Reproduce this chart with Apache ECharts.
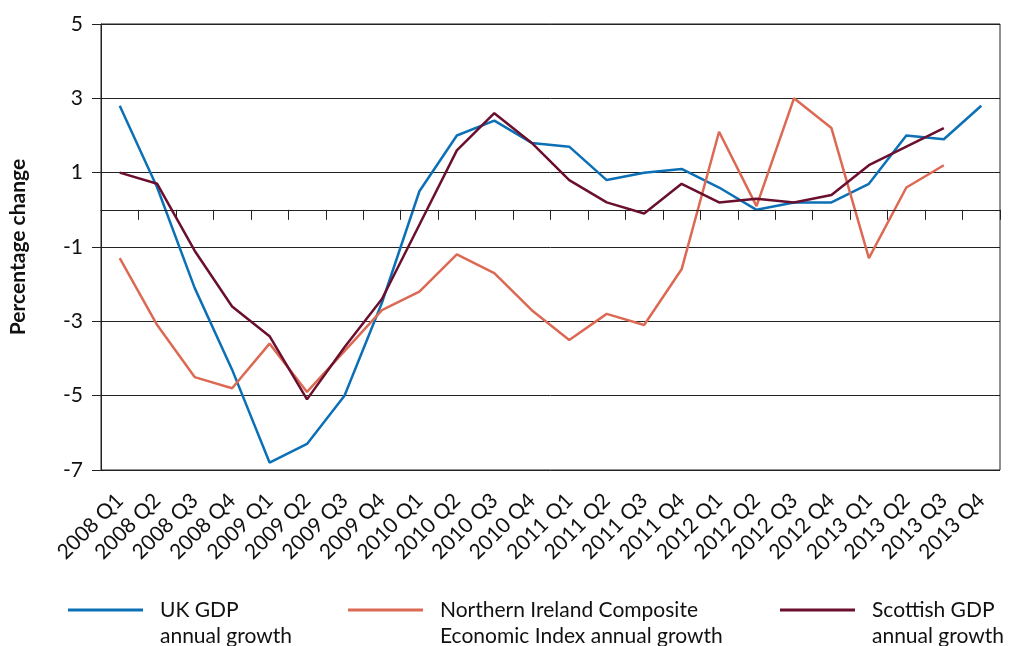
<!DOCTYPE html>
<html>
<head>
<meta charset="utf-8">
<script src="https://cdn.jsdelivr.net/npm/echarts@6/dist/echarts.min.js"></script>
<style>
html,body{margin:0;padding:0;background:#fff;}
#chart{width:1011px;height:646px;}
</style>
</head>
<body>
<div id="chart"></div>
<script>
var categories = ['2008 Q1','2008 Q2','2008 Q3','2008 Q4','2009 Q1','2009 Q2','2009 Q3','2009 Q4',
  '2010 Q1','2010 Q2','2010 Q3','2010 Q4','2011 Q1','2011 Q2','2011 Q3','2011 Q4',
  '2012 Q1','2012 Q2','2012 Q3','2012 Q4','2013 Q1','2013 Q2','2013 Q3','2013 Q4'];
var ukGDP = [2.8, 0.6, -2.1, -4.3, -6.8, -6.3, -5.0, -2.5, 0.5, 2.0, 2.4, 1.8, 1.7, 0.8, 1.0, 1.1,
  0.6, 0.0, 0.2, 0.2, 0.7, 2.0, 1.9, 2.8];
var niIndex = [-1.3, -3.1, -4.5, -4.8, -3.6, -4.9, -3.8, -2.7, -2.2, -1.2, -1.7, -2.7, -3.5, -2.8, -3.1, -1.6,
  2.1, 0.1, 3.0, 2.2, -1.3, 0.6, 1.2, null];
var scotGDP = [1.0, 0.7, -1.1, -2.6, -3.4, -5.1, -3.7, -2.4, -0.4, 1.6, 2.6, 1.8, 0.8, 0.2, -0.1, 0.7,
  0.2, 0.3, 0.2, 0.4, 1.2, 1.7, 2.2, null];
var seriesNames = ['UK GDP\nannual growth', 'Northern Ireland Composite\nEconomic Index annual growth', 'Scottish GDP\nannual growth'];
var colors = ['#0b70b5', '#dc6954', '#6b0f2e'];

var FONT = 'Lato, "Open Sans", sans-serif';
var chart = echarts.init(document.getElementById('chart'), null, {renderer: 'canvas'});

function legendFor(i, left) {
  return {
    show: true,
    data: [seriesNames[i]],
    left: left,
    top: 566,
    orient: 'horizontal',
    icon: 'rect',
    itemWidth: 75,
    itemHeight: 3,
    selectedMode: false,
    formatter: function (n) { return ' \n' + n; },
    textStyle: {
      fontFamily: FONT,
      fontSize: 21,
      color: '#111',
      lineHeight: 26,
      padding: [0, 0, 0, 12]
    }
  };
}

function lineSeries(i, data) {
  return {
    name: seriesNames[i],
    type: 'line',
    data: data,
    symbol: 'none',
    showSymbol: false,
    connectNulls: false,
    lineStyle: {color: colors[i], width: 2.5},
    itemStyle: {color: colors[i]},
    z: 3 + i,
    animation: false
  };
}

var option = {
  backgroundColor: '#ffffff',
  animation: false,
  grid: {left: 99, right: 11, top: 24, bottom: 176, containLabel: false,
    show: true, borderColor: '#222', borderWidth: 1, backgroundColor: 'transparent'},
  legend: [legendFor(0, 63), legendFor(1, 343), legendFor(2, 775)],
  xAxis: {
    type: 'category',
    data: categories,
    boundaryGap: true,
    axisLine: {show: true, lineStyle: {color: '#222', width: 1}},
    axisTick: {show: true, alignWithLabel: false, length: 10, lineStyle: {color: '#222'}},
    axisLabel: {
      interval: 0,
      rotate: 45,
      margin: 27,
      fontFamily: FONT,
      fontSize: 21,
      color: '#111'
    },
    splitLine: {show: false}
  },
  yAxis: {
    type: 'value',
    min: -7,
    max: 5,
    interval: 2,
    name: 'Percentage change',
    nameLocation: 'middle',
    nameGap: 72,
    nameRotate: 90,
    nameTextStyle: {fontFamily: FONT, fontSize: 21, fontWeight: 'bold', color: '#111'},
    axisLine: {show: true, lineStyle: {color: '#222', width: 1}},
    axisTick: {show: true, length: 9, lineStyle: {color: '#222'}},
    axisLabel: {margin: 18, fontFamily: FONT, fontSize: 21, color: '#111'},
    splitLine: {show: true, lineStyle: {color: '#222', width: 1}}
  },
  series: [
    lineSeries(0, ukGDP),
    lineSeries(1, niIndex),
    lineSeries(2, scotGDP),
    {
      type: 'line',
      data: [],
      markLine: {
        silent: true,
        symbol: ['none', 'none'],
        label: {show: false},
        lineStyle: {color: '#222', width: 1, type: 'solid'},
        data: [{yAxis: 0}]
      },
      z: 1
    }
  ]
};
chart.setOption(option);
</script>
</body>
</html>
